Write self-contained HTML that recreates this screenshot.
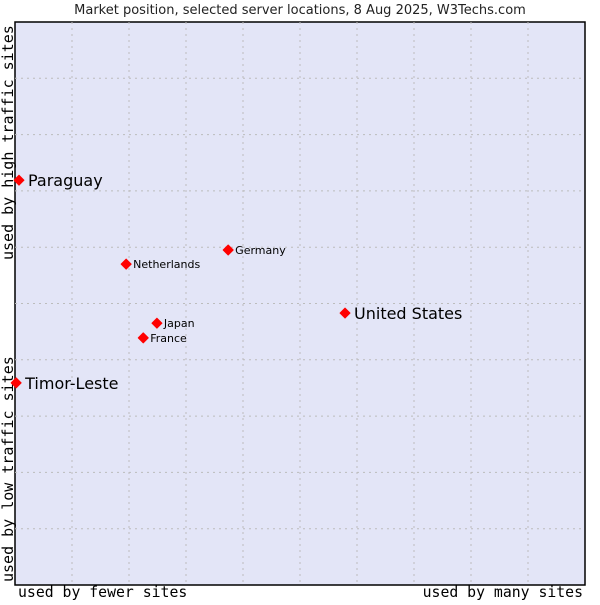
<!DOCTYPE html>
<html><head><meta charset="utf-8"><style>
body{margin:0;background:#fff;width:600px;height:600px;overflow:hidden}
</style></head><body>
<svg width="600" height="600" xmlns="http://www.w3.org/2000/svg">
<text x="300" y="14" text-anchor="middle" font-family="DejaVu Sans, sans-serif" font-size="13" fill="#222">Market position, selected server locations, 8 Aug 2025, W3Techs.com</text>
<rect x="15" y="22" width="570" height="563" fill="#e3e5f7" stroke="#000" stroke-width="1.5"/>
<g id="grid"></g>
<text x="18" y="597" font-family="DejaVu Sans Mono, monospace" font-size="14.8" fill="#000">used by fewer sites</text>
<text x="583" y="597" text-anchor="end" font-family="DejaVu Sans Mono, monospace" font-size="14.8" fill="#000">used by many sites</text>
<text transform="translate(13,260) rotate(-90)" font-family="DejaVu Sans Mono, monospace" font-size="15" fill="#000">used by high traffic sites</text>
<text transform="translate(13,582) rotate(-90)" font-family="DejaVu Sans Mono, monospace" font-size="15" fill="#000">used by low traffic sites</text>
<g id="points"></g>
</svg>
<script>
const names=["Paraguay","Timor-Leste","United States","Germany","Netherlands","Japan","France"];
const xVals=[0.7,0.2,57.9,37.4,19.5,24.9,22.5];
const yVals=[71.9,35.9,48.3,59.5,57.0,46.5,43.9];
const big=[true,true,true,false,false,false,false];
const NS="http://www.w3.org/2000/svg";
const L=15,R=585,T=22,B=585;
const sx=v=>L+v/100*(R-L), sy=v=>B-v/100*(B-T);
const grid=document.getElementById('grid');
for(let i=1;i<10;i++){
 const a=document.createElementNS(NS,'line');
 
 
 const x=sx(i*10);a.setAttribute('x1',x);a.setAttribute('x2',x);a.setAttribute('y1',T);a.setAttribute('y2',B);
 a.setAttribute('stroke','#bcbcbc');a.setAttribute('stroke-dasharray','2,4');grid.appendChild(a);
 const b=document.createElementNS(NS,'line');
 
 
 const y=sy(i*10);b.setAttribute('y1',y);b.setAttribute('y2',y);b.setAttribute('x1',L);b.setAttribute('x2',R);
 b.setAttribute('stroke','#bcbcbc');b.setAttribute('stroke-dasharray','2,4');grid.appendChild(b);
}
const pts=document.getElementById('points');
names.forEach((n,i)=>{
 const x=sx(xVals[i]),y=sy(yVals[i]);
 const p=document.createElementNS(NS,'polygon');
 
 
 p.setAttribute('points',`${x},${y-5} ${x+5},${y} ${x},${y+5} ${x-5},${y}`);
 p.setAttribute('fill','#f00');p.setAttribute('stroke','#f00');p.setAttribute('stroke-width','1');p.setAttribute('stroke-linejoin','round');pts.appendChild(p);
 const t=document.createElementNS(NS,'text');
 
 
 t.setAttribute('x',x+(big[i]?9:7));t.setAttribute('y',y+(big[i]?6:4));
 t.setAttribute('font-family','DejaVu Sans, sans-serif');t.setAttribute('font-size',big[i]?16:11);
 t.setAttribute('fill','#000');t.textContent=n;pts.appendChild(t);
});
</script>
</body></html>
